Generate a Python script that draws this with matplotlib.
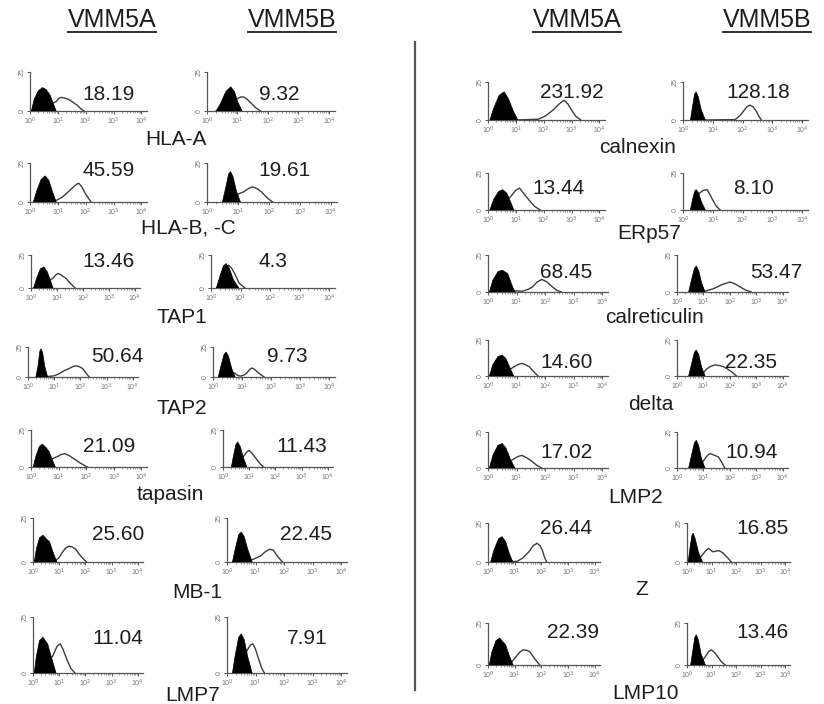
import matplotlib.pyplot as plt
from matplotlib.lines import Line2D
import numpy as np

plt.rcParams['font.family'] = ['Liberation Sans', 'DejaVu Sans']

W, H = 824, 704

# ---- data (x in decades from 10^0, y as fraction of axis height)
left_names = ['HLA-A', 'HLA-B, -C', 'TAP1', 'TAP2', 'tapasin', 'MB-1', 'LMP7']
right_names = ['calnexin', 'ERp57', 'calreticulin', 'delta', 'LMP2', 'Z', 'LMP10']

left_mfi_a = ['18.19', '45.59', '13.46', '50.64', '21.09', '25.60', '11.04']
left_mfi_b = ['9.32', '19.61', '4.3', '9.73', '11.43', '22.45', '7.91']
right_mfi_a = ['231.92', '13.44', '68.45', '14.60', '17.02', '26.44', '22.39']
right_mfi_b = ['128.18', '8.10', '53.47', '22.35', '10.94', '16.85', '13.46']

# isotype control (filled) and stained (open) histograms
left_iso_a = [
    [(0.05, 0), (0.15, 0.3), (0.3, 0.52), (0.45, 0.60), (0.58, 0.55), (0.72, 0.41), (0.84, 0.18), (0.94, 0)],
    [(0.12, 0), (0.25, 0.3), (0.4, 0.58), (0.55, 0.67), (0.68, 0.55), (0.8, 0.28), (0.94, 0)],
    [(0.1, 0), (0.22, 0.3), (0.36, 0.58), (0.5, 0.64), (0.62, 0.5), (0.74, 0.25), (0.85, 0)],
    [(0.3, 0), (0.38, 0.35), (0.45, 0.85), (0.5, 0.94), (0.56, 0.8), (0.64, 0.35), (0.75, 0)],
    [(0.08, 0), (0.18, 0.3), (0.3, 0.55), (0.41, 0.62), (0.55, 0.52), (0.66, 0.41), (0.78, 0.18), (0.88, 0)],
    [(0.05, 0), (0.13, 0.3), (0.25, 0.55), (0.38, 0.61), (0.5, 0.53), (0.63, 0.46), (0.78, 0.2), (0.91, 0)],
    [(0.05, 0), (0.13, 0.3), (0.25, 0.58), (0.38, 0.64), (0.48, 0.57), (0.56, 0.52), (0.72, 0.25), (0.88, 0)],
]
left_stain_a = [
    [(0.05, 0), (0.5, 0.12), (0.94, 0.24), (1.03, 0.32), (1.12, 0.35), (1.25, 0.33), (1.38, 0.30),
     (1.55, 0.22), (1.69, 0.15), (1.82, 0.06), (1.94, 0)],
    [(0.6, 0), (0.94, 0.04), (1.15, 0.12), (1.31, 0.22), (1.55, 0.38), (1.68, 0.46), (1.75, 0.48),
     (1.85, 0.4), (2.0, 0.2), (2.19, 0)],
    [(0.1, 0), (0.6, 0.15), (0.85, 0.3), (0.96, 0.4), (1.04, 0.44), (1.15, 0.4), (1.35, 0.29),
     (1.52, 0.14), (1.7, 0)],
    [(0.5, 0), (0.8, 0.02), (1.0, 0.04), (1.19, 0.11), (1.4, 0.22), (1.56, 0.28), (1.72, 0.35),
     (1.84, 0.37), (1.97, 0.34), (2.09, 0.28), (2.22, 0.12), (2.34, 0)],
    [(0.1, 0), (0.7, 0.2), (0.98, 0.29), (1.1, 0.34), (1.22, 0.36), (1.38, 0.31), (1.54, 0.23),
     (1.8, 0.1), (2.04, 0)],
    [(0.7, 0.02), (0.85, 0.03), (1.0, 0.1), (1.12, 0.22), (1.25, 0.32), (1.38, 0.36), (1.5, 0.34),
     (1.63, 0.29), (1.8, 0.15), (2.04, 0)],
    [(0.3, 0), (0.75, 0.3), (0.92, 0.48), (1.04, 0.52), (1.15, 0.42), (1.3, 0.23), (1.45, 0.08), (1.6, 0)],
]
left_iso_b = [
    [(0.3, 0), (0.45, 0.2), (0.62, 0.5), (0.78, 0.62), (0.9, 0.5), (1.0, 0.25), (1.15, 0)],
    [(0.5, 0), (0.6, 0.35), (0.7, 0.72), (0.76, 0.78), (0.84, 0.65), (0.95, 0.28), (1.08, 0)],
    [(0.19, 0), (0.3, 0.35), (0.42, 0.67), (0.51, 0.74), (0.62, 0.6), (0.76, 0.25), (0.94, 0)],
    [(0.18, 0), (0.27, 0.35), (0.38, 0.75), (0.45, 0.83), (0.53, 0.7), (0.64, 0.3), (0.76, 0)],
    [(0.32, 0), (0.4, 0.3), (0.49, 0.6), (0.56, 0.68), (0.66, 0.55), (0.78, 0.25), (0.91, 0)],
    [(0.19, 0), (0.29, 0.3), (0.41, 0.62), (0.5, 0.68), (0.6, 0.58), (0.73, 0.28), (0.88, 0)],
    [(0.19, 0), (0.29, 0.32), (0.41, 0.64), (0.5, 0.7), (0.6, 0.6), (0.73, 0.28), (0.88, 0)],
]
left_stain_b = [
    [(0.3, 0), (0.8, 0.2), (1.0, 0.32), (1.1, 0.36), (1.2, 0.36), (1.32, 0.3), (1.45, 0.2),
     (1.6, 0.08), (1.76, 0)],
    [(0.6, 0), (0.9, 0.15), (1.05, 0.22), (1.18, 0.26), (1.35, 0.35), (1.47, 0.39), (1.6, 0.35),
     (1.76, 0.26), (1.95, 0.1), (2.12, 0)],
    [(0.19, 0), (0.4, 0.5), (0.52, 0.66), (0.6, 0.69), (0.7, 0.6), (0.8, 0.44), (0.95, 0.15), (1.15, 0)],
    [(0.3, 0), (0.7, 0.15), (0.85, 0.05), (0.95, 0.03), (1.05, 0.06), (1.15, 0.12), (1.27, 0.26),
     (1.35, 0.3), (1.44, 0.25), (1.55, 0.15), (1.76, 0)],
    [(0.4, 0), (0.8, 0.3), (0.9, 0.4), (0.99, 0.45), (1.1, 0.38), (1.26, 0.23), (1.4, 0.1), (1.55, 0)],
    [(0.3, 0), (0.88, 0.05), (1.05, 0.1), (1.18, 0.14), (1.35, 0.24), (1.5, 0.29), (1.62, 0.27),
     (1.78, 0.12), (1.94, 0)],
    [(0.3, 0), (0.7, 0.4), (0.82, 0.5), (0.91, 0.52), (1.0, 0.42), (1.12, 0.23), (1.22, 0.08), (1.31, 0)],
]
right_iso_a = [
    [(0.07, 0), (0.2, 0.3), (0.4, 0.65), (0.58, 0.74), (0.74, 0.55), (0.9, 0.25), (1.07, 0)],
    [(0.07, 0), (0.2, 0.28), (0.38, 0.5), (0.53, 0.55), (0.68, 0.45), (0.82, 0.2), (0.93, 0)],
    [(0.05, 0), (0.17, 0.32), (0.35, 0.55), (0.5, 0.59), (0.62, 0.53), (0.69, 0.5), (0.82, 0.22), (0.94, 0)],
    [(0.05, 0), (0.17, 0.32), (0.35, 0.54), (0.5, 0.58), (0.63, 0.48), (0.77, 0.22), (0.9, 0)],
    [(0.05, 0), (0.17, 0.35), (0.35, 0.63), (0.5, 0.68), (0.63, 0.55), (0.78, 0.25), (0.94, 0)],
    [(0.1, 0), (0.22, 0.3), (0.4, 0.6), (0.53, 0.65), (0.66, 0.52), (0.8, 0.22), (0.93, 0)],
    [(0.05, 0), (0.14, 0.3), (0.3, 0.58), (0.44, 0.64), (0.56, 0.55), (0.66, 0.48), (0.8, 0.22), (0.94, 0)],
]
right_stain_a = [
    [(0.9, 0), (1.8, 0.02), (2.05, 0.1), (2.33, 0.26), (2.55, 0.42), (2.73, 0.52), (2.87, 0.42),
     (3.0, 0.26), (3.15, 0.1), (3.33, 0)],
    [(0.3, 0), (0.8, 0.35), (0.98, 0.52), (1.13, 0.59), (1.28, 0.45), (1.47, 0.27), (1.67, 0.1), (1.87, 0)],
    [(0.6, 0), (1.0, 0.03), (1.2, 0.02), (1.4, 0.07), (1.56, 0.14), (1.72, 0.27), (1.88, 0.34),
     (2.05, 0.28), (2.25, 0.14), (2.4, 0.05), (2.56, 0)],
    [(0.4, 0), (0.9, 0.25), (1.05, 0.32), (1.19, 0.35), (1.32, 0.31), (1.44, 0.26), (1.6, 0.12), (1.75, 0)],
    [(0.4, 0), (0.9, 0.25), (1.05, 0.32), (1.19, 0.35), (1.34, 0.29), (1.5, 0.21), (1.7, 0.08), (1.88, 0)],
    [(0.7, 0), (1.1, 0.02), (1.3, 0.1), (1.53, 0.26), (1.7, 0.42), (1.84, 0.48), (1.95, 0.42),
     (2.04, 0.3), (2.12, 0.12), (2.2, 0)],
    [(0.7, 0), (0.9, 0.08), (1.06, 0.2), (1.18, 0.3), (1.31, 0.36), (1.45, 0.35), (1.56, 0.32),
     (1.75, 0.15), (1.94, 0)],
]
right_iso_b = [
    [(0.25, 0), (0.32, 0.35), (0.39, 0.68), (0.44, 0.74), (0.51, 0.62), (0.62, 0.25), (0.75, 0)],
    [(0.25, 0), (0.32, 0.28), (0.39, 0.5), (0.44, 0.55), (0.51, 0.48), (0.62, 0.22), (0.75, 0)],
    [(0.44, 0), (0.54, 0.3), (0.66, 0.64), (0.73, 0.7), (0.82, 0.58), (0.93, 0.25), (1.06, 0)],
    [(0.44, 0), (0.54, 0.3), (0.66, 0.66), (0.73, 0.72), (0.82, 0.6), (0.93, 0.25), (1.06, 0)],
    [(0.44, 0), (0.54, 0.32), (0.66, 0.7), (0.73, 0.77), (0.82, 0.62), (0.93, 0.25), (1.06, 0)],
    [(0.05, 0), (0.12, 0.35), (0.2, 0.68), (0.25, 0.74), (0.33, 0.6), (0.47, 0.25), (0.63, 0)],
    [(0.15, 0), (0.23, 0.32), (0.32, 0.66), (0.38, 0.72), (0.46, 0.6), (0.58, 0.25), (0.75, 0)],
]
right_stain_b = [
    [(0.7, 0), (1.75, 0.01), (1.92, 0.12), (2.05, 0.25), (2.15, 0.35), (2.25, 0.39), (2.35, 0.35),
     (2.45, 0.25), (2.55, 0.1), (2.63, 0)],
    [(0.3, 0), (0.55, 0.45), (0.68, 0.53), (0.81, 0.55), (0.9, 0.42), (1.0, 0.27), (1.12, 0.1), (1.25, 0)],
    [(0.9, 0), (1.15, 0.04), (1.38, 0.09), (1.7, 0.2), (2.0, 0.27), (2.2, 0.22), (2.38, 0.14),
     (2.6, 0.05), (2.81, 0)],
    [(0.9, 0), (1.1, 0.18), (1.25, 0.26), (1.44, 0.31), (1.6, 0.29), (1.75, 0.26), (1.9, 0.2),
     (2.06, 0.12), (2.25, 0)],
    [(0.8, 0), (1.05, 0.25), (1.15, 0.35), (1.25, 0.4), (1.4, 0.36), (1.56, 0.31), (1.7, 0.15), (1.81, 0)],
    [(0.4, 0), (0.65, 0.2), (0.78, 0.3), (0.88, 0.35), (0.97, 0.3), (1.06, 0.26), (1.18, 0.28),
     (1.31, 0.29), (1.45, 0.24), (1.56, 0.17), (1.7, 0.08), (1.81, 0)],
    [(0.5, 0), (0.75, 0.2), (0.88, 0.32), (1.0, 0.36), (1.12, 0.3), (1.25, 0.2), (1.4, 0.08), (1.56, 0)],
]

# ---- layout in pixels: (y-axis x, axis right end, top, baseline)
left_box_a = [(30, 147, 72, 111), (30, 147, 163, 202), (31, 140, 255, 288), (28, 138, 347, 377),
              (31, 147, 430, 467), (33, 143, 518, 562), (33, 143, 617, 673)]
left_box_b = [(207, 335, 72, 111), (207, 337, 163, 202), (211, 335, 255, 288), (213, 335, 347, 377),
              (223, 333, 430, 467), (227, 347, 518, 562), (227, 347, 617, 673)]
right_box_a = [(488, 605, 82, 120), (488, 605, 173, 210), (488, 608, 255, 292), (488, 608, 340, 376),
               (488, 608, 432, 468), (488, 600, 523, 562), (488, 600, 623, 665)]
right_box_b = [(683, 808, 82, 120), (683, 808, 173, 210), (677, 788, 255, 292), (677, 788, 340, 376),
               (677, 788, 432, 468), (687, 790, 523, 562), (687, 790, 623, 665)]

left_num_a = [(108, 95), (109, 170), (109, 262), (117, 357), (109, 447), (118, 535), (118, 638)]
left_num_b = [(279, 95), (285, 170), (273, 262), (287, 357), (302, 447), (306, 535), (307, 638)]
right_num_a = [(572, 92), (559, 188), (566, 272), (567, 362), (567, 452), (566, 528), (573, 633)]
right_num_b = [(758, 92), (753, 188), (776, 272), (751, 362), (752, 452), (762, 528), (762, 633)]
# (centre x, baseline y)
left_label_xy = [(176, 145), (188, 233), (182, 323), (182, 414), (170, 500), (197, 598), (193, 701)]
right_label_xy = [(638, 153), (649, 239), (655, 323), (651, 410), (636, 503), (642, 595), (646, 699)]

TXT = '#1e1e1e'
fig = plt.figure(figsize=(W / 100, H / 100), dpi=100)

minor = [d + np.log10(k) for d in range(4) for k in range(2, 10)]


def panel(b, iso, stain):
    x0, x1, top, base = b
    ax = fig.add_axes([x0 / W, 1 - base / H, (x1 - x0) / W, (base - top) / H])
    sx, sy = zip(*stain)
    ax.plot(sx, sy, color='#3c3c3c', lw=1.0, zorder=2, solid_joinstyle='round')
    ix, iy = zip(*iso)
    ax.fill(ix, iy, color='black', lw=0.5, zorder=3)
    ax.set_xlim(0, 4.2)
    ax.set_ylim(0, 1)
    ax.patch.set_alpha(0)
    for s in ['top', 'right']:
        ax.spines[s].set_visible(False)
    for s in ['left', 'bottom']:
        ax.spines[s].set_color('#555555')
        ax.spines[s].set_linewidth(0.9)
    ax.set_xticks([0, 1, 2, 3, 4])
    ax.set_xticklabels(['10$^0$', '10$^1$', '10$^2$', '10$^3$', '10$^4$'])
    ax.set_xticks(minor, minor=True)
    ax.set_yticks([0, 1])
    ax.set_yticklabels(['0', '25'], rotation=90, va='center')
    ax.tick_params(axis='x', which='major', length=2.5, width=0.7, labelsize=5, pad=1,
                   colors='#555555', labelcolor='#777777')
    ax.tick_params(axis='x', which='minor', length=1.5, width=0.5, colors='#777777')
    ax.tick_params(axis='y', length=2, width=0.7, labelsize=5, pad=1,
                   colors='#555555', labelcolor='#777777')
    return ax


for i in range(7):
    panel(left_box_a[i], left_iso_a[i], left_stain_a[i])
    panel(left_box_b[i], left_iso_b[i], left_stain_b[i])
    panel(right_box_a[i], right_iso_a[i], right_stain_a[i])
    panel(right_box_b[i], right_iso_b[i], right_stain_b[i])

    for (x, y), s in [(left_num_a[i], left_mfi_a[i]), (left_num_b[i], left_mfi_b[i]),
                      (right_num_a[i], right_mfi_a[i]), (right_num_b[i], right_mfi_b[i])]:
        fig.text(x / W, 1 - y / H, s, ha='center', va='center', fontsize=15, color=TXT)
    lx, ly = left_label_xy[i]
    fig.text(lx / W, 1 - ly / H, left_names[i], ha='center', va='baseline', fontsize=15, color=TXT)
    rx, ry = right_label_xy[i]
    fig.text(rx / W, 1 - ry / H, right_names[i], ha='center', va='baseline', fontsize=15, color=TXT)

# column headers, underlined
heads = []
for x, s in [(112, 'VMM5A'), (292, 'VMM5B'), (577, 'VMM5A'), (767, 'VMM5B')]:
    heads.append(fig.text(x / W, 1 - 27 / H, s, ha='center', va='baseline', fontsize=18, color=TXT))

fig.canvas.draw()
r = fig.canvas.get_renderer()
for t in heads:
    bb = t.get_window_extent(r)
    yy = 1 - 32 / H
    fig.add_artist(Line2D([bb.x0 / W, bb.x1 / W], [yy, yy], color=TXT, lw=1.3,
                          transform=fig.transFigure))

# divider between the two halves
fig.add_artist(Line2D([415 / W, 415 / W], [1 - 42 / H, 1 - 690 / H], color='#555555', lw=1.6,
                      transform=fig.transFigure))

fig.savefig('out.png', dpi=100)
